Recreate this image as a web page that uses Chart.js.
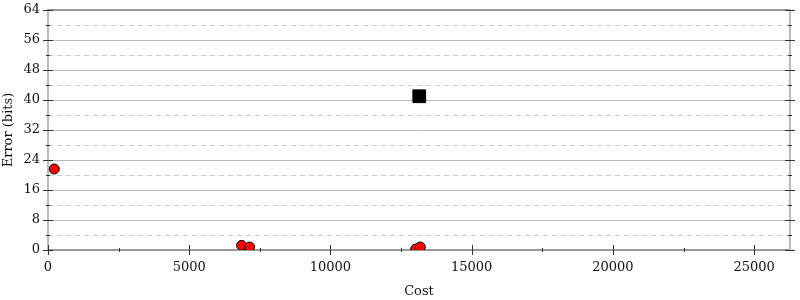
<!DOCTYPE html>
<html>
<head>
<meta charset="utf-8">
<script src="https://cdn.jsdelivr.net/npm/chart.js@4/dist/chart.umd.min.js"></script>
<style>
  html, body { margin: 0; padding: 0; background: #fff; }
  #wrap { width: 800px; height: 300px; }
</style>
</head>
<body>
<div id="wrap"><canvas id="chart-1" width="800" height="300"></canvas></div>
<script>
// values
const redCost = [222, 6856, 7137, 13018, 13180];
const redError = [21.6, 1.24, 0.79, 0.26, 0.79];
const blackCost = [13144];
const blackError = [41.0];

const xMax = 26270;
const yMax = 64;
const xMajorTicks = [0, 5000, 10000, 15000, 20000, 25000];
const xMinorTicks = [2500, 7500, 12500, 17500, 22500];
const yMajorTicks = [0, 8, 16, 24, 32, 40, 48, 56, 64];
const yMinorTicks = [4, 12, 20, 28, 36, 44, 52, 60];

const toPoints = (xs, ys) => xs.map((x, i) => ({ x: x, y: ys[i] }));

// dashed minor grid lines, frame, and tick marks on all sides
const framePlugin = {
  id: "frame",
  beforeDatasetsDraw(chart) {
    const { ctx, chartArea: a, scales } = chart;
    ctx.save();
    ctx.strokeStyle = "#cccccc";
    ctx.lineWidth = 1;
    ctx.setLineDash([5, 4]);
    yMinorTicks.forEach((v) => {
      const y = Math.round(scales.y.getPixelForValue(v)) + 0.5;
      ctx.beginPath();
      ctx.moveTo(a.left, y);
      ctx.lineTo(a.right, y);
      ctx.stroke();
    });
    ctx.setLineDash([]);
    // top and right border
    ctx.lineWidth = 2;
    ctx.strokeStyle = "#999999";
    ctx.beginPath();
    ctx.moveTo(a.left, a.top);
    ctx.lineTo(a.right, a.top);
    ctx.stroke();
    ctx.strokeStyle = "#bbbbbb";
    ctx.beginPath();
    ctx.moveTo(a.right, a.top);
    ctx.lineTo(a.right, a.bottom);
    ctx.stroke();
    ctx.restore();
  },
  afterDraw(chart) {
    const { ctx, chartArea: a, scales } = chart;
    ctx.save();
    ctx.strokeStyle = "#333333";
    ctx.lineWidth = 1;
    const hLine = (x1, x2, y) => {
      ctx.beginPath(); ctx.moveTo(x1, y); ctx.lineTo(x2, y); ctx.stroke();
    };
    const vLine = (x, y1, y2) => {
      ctx.beginPath(); ctx.moveTo(x, y1); ctx.lineTo(x, y2); ctx.stroke();
    };
    yMajorTicks.forEach((v) => {
      const y = Math.round(scales.y.getPixelForValue(v)) + 0.5;
      hLine(a.left - 5, a.left + 5, y);
      hLine(a.right - 5, a.right + 5, y);
    });
    yMinorTicks.forEach((v) => {
      const y = Math.round(scales.y.getPixelForValue(v)) + 0.5;
      hLine(a.left - 2, a.left + 2, y);
      hLine(a.right - 2, a.right + 2, y);
    });
    xMajorTicks.forEach((v) => {
      const x = Math.round(scales.x.getPixelForValue(v)) + 0.5;
      vLine(x, a.bottom - 5, a.bottom + 5);
    });
    xMinorTicks.forEach((v) => {
      const x = Math.round(scales.x.getPixelForValue(v)) + 0.5;
      vLine(x, a.bottom - 2, a.bottom + 2);
    });
    ctx.restore();
  }
};

Chart.defaults.font.family = "'DejaVu Serif', serif";
Chart.defaults.font.size = 13;
Chart.defaults.color = "#111111";

const ctx = document.getElementById("chart-1").getContext("2d");
const myChart = new Chart(ctx, {
  type: "scatter",
  data: {
    datasets: [
      {
        label: "red",
        data: toPoints(redCost, redError),
        backgroundColor: "#ff0000",
        borderColor: "#000000",
        borderWidth: 1,
        pointRadius: 5,
        pointHoverRadius: 5
      },
      {
        label: "black",
        data: toPoints(blackCost, blackError),
        pointStyle: "rect",
        backgroundColor: "#000000",
        borderColor: "#000000",
        borderWidth: 1,
        pointRadius: 9,
        pointHoverRadius: 9
      }
    ]
  },
  options: {
    responsive: false,
    animation: false,
    layout: { padding: { top: 8, right: 6, left: 0, bottom: 0 } },
    plugins: {
      legend: { display: false },
      tooltip: { enabled: false }
    },
    scales: {
      x: {
        type: "linear",
        min: 0,
        max: xMax,
        afterBuildTicks: (scale) => {
          scale.ticks = xMajorTicks.map((v) => ({ value: v }));
        },
        ticks: { padding: 10, maxRotation: 0, callback: (v) => String(v) },
        grid: { display: false, drawTicks: false },
        border: { color: "#999999", width: 2 },
        title: { display: true, text: "Cost", padding: { top: 0, bottom: 1 } },
        afterFit: (scale) => {
          scale.height = 50;
          scale.paddingLeft = 0;
          scale.paddingRight = 0;
        }
      },
      y: {
        type: "linear",
        min: 0,
        max: yMax,
        afterBuildTicks: (scale) => {
          scale.ticks = yMajorTicks.map((v) => ({ value: v }));
        },
        ticks: { padding: 8, callback: (v) => String(v) },
        grid: {
          drawTicks: false,
          color: "#bbbbbb",
          lineWidth: 1
        },
        border: { color: "#bbbbbb", width: 2 },
        title: { display: true, text: "Error (bits)", padding: { top: 1, bottom: 0 } },
        afterFit: (scale) => {
          scale.width = 48;
          scale.paddingTop = 0;
          scale.paddingBottom = 0;
        }
      }
    }
  },
  plugins: [framePlugin]
});
</script>
</body>
</html>
